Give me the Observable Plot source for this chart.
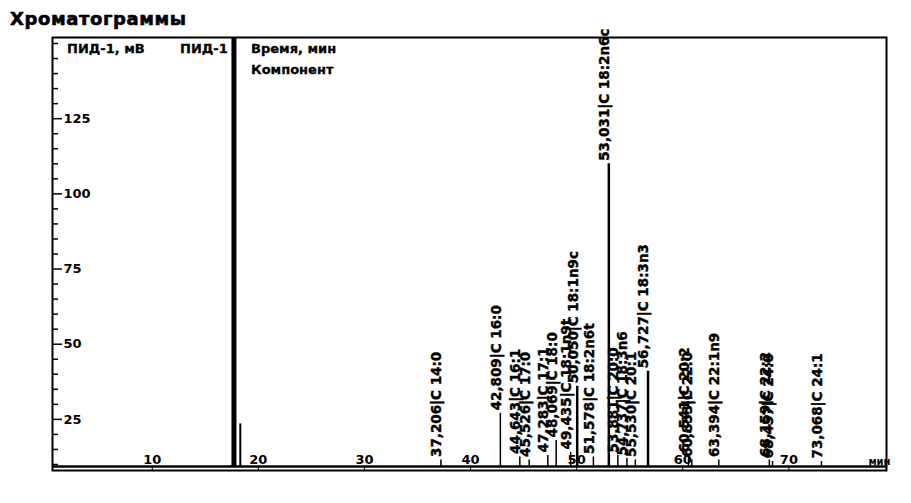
<!DOCTYPE html>
<html><head><meta charset="utf-8">
<script src="https://cdn.jsdelivr.net/npm/d3@7"></script>
<script src="https://cdn.jsdelivr.net/npm/@observablehq/plot@0.6"></script>
<style>
body{margin:0;background:#fff;}
#wrap{position:relative;width:911px;height:503px;overflow:hidden;font-family:"DejaVu Sans",sans-serif;font-weight:bold;color:#000}
#chart{position:absolute;left:0;top:0}
.lbl{position:absolute;white-space:nowrap;font-size:13px;line-height:1;-webkit-text-stroke:0.3px #000}
#title{position:absolute;left:10px;top:10px;font-size:18px;line-height:1;letter-spacing:0.6px;-webkit-text-stroke:0.6px #000}
</style></head><body>
<div id="wrap">
<div id="chart"></div>
<div id="title">Хроматограммы</div>
<div class="lbl" style="left:67px;top:42px">ПИД-1, мВ</div>
<div class="lbl" style="left:180px;top:42px">ПИД-1</div>
<div class="lbl" style="left:251px;top:42px">Время, мин</div>
<div class="lbl" style="left:251px;top:63px">Компонент</div>
</div>
<script>
// Peak retention times (min), apex signal (mV) and component names
const peakTimes   = [37.206, 42.809, 44.643, 45.526, 47.283, 48.069, 49.435, 50.050, 51.578, 53.031,
                     53.881, 54.737, 55.530, 56.727, 60.541, 60.853, 63.394, 68.159, 68.457, 73.068];
const peakHeights = [11.5, 27, 12.5, 11.5, 13, 18, 14, 36, 12.5, 110,
                     13, 12, 11.5, 41, 13, 11.5, 11.5, 11.5, 11, 11];
const peakNames   = ["C 14:0", "C 16:0", "C 16:1", "C 17:0", "C 17:1", "C 18:0", "C 18:1n9t", "C 18:1n9c", "C 18:2n6t", "C 18:2n6c",
                     "C 20:0", "C 18:3n6", "C 20:1", "C 18:3n3", "C 20:2", "C 22:0", "C 22:1n9", "C 22:2", "C 24:0", "C 24:1"];
// Solvent peak and the small peak just after it
const solventTimes   = [17.7];
const solventHeights = [300];
const earlyTimes   = [18.3];
const earlyHeights = [23.5];
const baselineLevel = 9.3;
// Axis ticks
const xTicks = [10, 20, 30, 40, 50, 60, 70];
const yTicks = [25, 50, 75, 100, 125];
const yMinorTicks = [10, 15, 20, 30, 35, 40, 45, 55, 60, 65, 70, 80, 85, 90, 95, 105, 110, 115, 120, 130, 135, 140, 145, 150];

const fmt = t => t.toFixed(3).replace(".", ",");
const peaks = peakTimes.map((t, i) => ({t, h: peakHeights[i], label: fmt(t) + "|" + peakNames[i]}));
const solvent = solventTimes.map((t, i) => ({t, h: solventHeights[i]}));
const early = earlyTimes.map((t, i) => ({t, h: earlyHeights[i]}));

const font = "DejaVu Sans";
const plot = Plot.plot({
  width: 911,
  height: 503,
  marginLeft: 52,
  marginRight: 25,
  marginTop: 37,
  marginBottom: 33,
  style: {fontFamily: font, fontWeight: "bold", fontSize: "13px", color: "#000", background: "#fff"},
  x: {domain: [0.6, 79.2]},
  y: {domain: [8, 152]},
  marks: [
    Plot.ruleY([baselineLevel], {strokeWidth: 2.5, stroke: "#000"}),
    Plot.ruleX(peaks, {x: "t", y1: baselineLevel, y2: "h", stroke: "#000", strokeWidth: d => d.h > 30 ? 2.5 : 1.5}),
    Plot.ruleX(solvent, {x: "t", y1: baselineLevel, y2: "h", stroke: "#000", strokeWidth: 5, clip: true}),
    Plot.ruleX(early, {x: "t", y1: baselineLevel, y2: "h", stroke: "#000", strokeWidth: 2}),
    Plot.text(peaks, {x: "t", y: "h", text: "label", rotate: -90, textAnchor: "start", dx: -4, dy: -3,
      fontSize: 13.5, fontWeight: "bold", fontFamily: font, fill: "#000", stroke: "#000", strokeWidth: 0.4}),
    Plot.axisY({anchor: "right", frameAnchor: "left", ticks: yMinorTicks, tickSize: 5, text: null, label: null, strokeWidth: 1.5}),
    Plot.axisY({anchor: "right", frameAnchor: "left", ticks: yTicks, tickSize: 9, tickPadding: 2, label: null, strokeWidth: 1.5, fontSize: 13}),
    Plot.axisX({anchor: "top", frameAnchor: "bottom", ticks: xTicks, tickSize: 4, tickPadding: 3, label: null, fontSize: 13}),
    Plot.text(["мин"], {frameAnchor: "bottom-right", dx: 4, dy: -6, fontSize: 10, fontWeight: "bold", textAnchor: "end"}),
    Plot.frame({stroke: "#000", strokeWidth: 2})
  ]
});
document.getElementById("chart").appendChild(plot);
</script>
</body></html>
